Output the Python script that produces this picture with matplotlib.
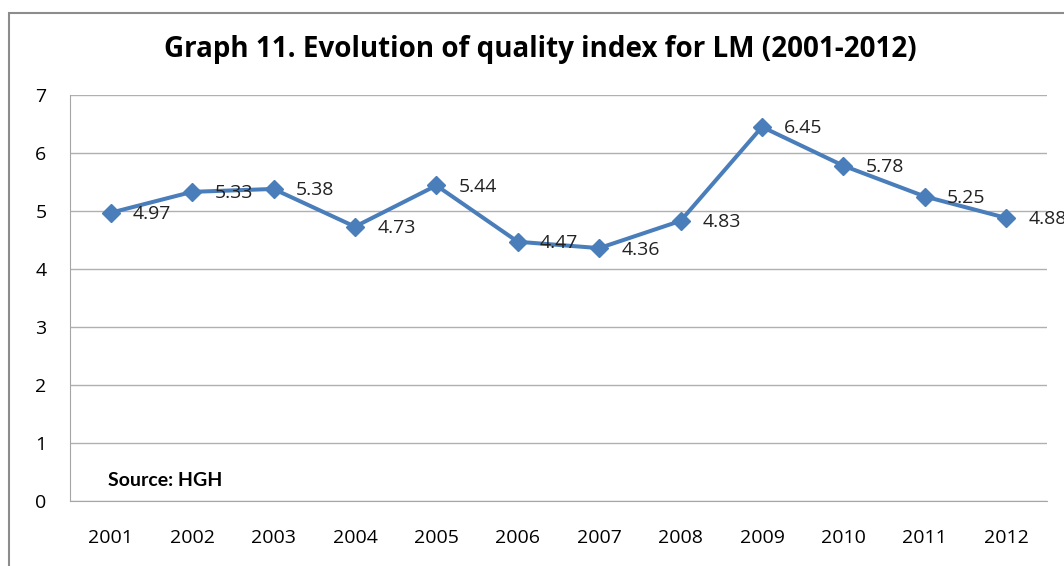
import numpy as np
import matplotlib.pyplot as plt
from matplotlib.patches import Rectangle

# --- données ---
years = ['2001', '2002', '2003', '2004', '2005', '2006',
         '2007', '2008', '2009', '2010', '2011', '2012']
quality = [4.97, 5.33, 5.38, 4.73, 5.44, 4.47, 4.36, 4.83, 6.45, 5.78, 5.25, 4.88]
yticks = [0, 1, 2, 3, 4, 5, 6, 7]

plt.rcParams['font.family'] = ['Open Sans', 'DejaVu Sans']

fig = plt.figure(figsize=(10.64, 5.66), dpi=100)
ax = fig.add_axes([70/1064, 1 - 501/566, 977/1064, 406/566])

# cadre extérieur du graphique
fig.patches.append(Rectangle((9/1064, -0.1), 1.2, 1 - 13/566 + 0.1,
                             transform=fig.transFigure, fill=False,
                             edgecolor='#8c8c8c', linewidth=1.5))

x = np.arange(len(years))
ax.plot(x, quality, color='#4A7EBB', linewidth=2.9, marker='D',
        markersize=9, zorder=3)

# étiquettes de valeurs (la dernière déborde à droite, comme sur l'original)
for xi, v in zip(x, quality):
    ax.annotate(f'{v:.2f}', (xi, v), xytext=(16, -1), textcoords='offset points',
                va='center', ha='left', fontsize=14, color='#222222',
                annotation_clip=False)

ax.set_xlim(-0.5, len(years) - 0.5)
ax.set_ylim(0, 7)
ax.set_xticks(x)
ax.set_xticklabels(years, fontsize=14)
ax.set_yticks(yticks)
ax.set_yticklabels([str(t) for t in yticks], fontsize=14)
ax.tick_params(length=0, pad=17)
ax.tick_params(axis='x', pad=20)

ax.grid(axis='y', color='#b0b0b0', linewidth=1)
ax.set_axisbelow(True)
for s in ['top', 'right']:
    ax.spines[s].set_visible(False)
for s in ['left', 'bottom']:
    ax.spines[s].set_color('#a6a6a6')

fig.text(540/1064, 1 - 50/566, 'Graph 11. Evolution of quality index for LM (2001-2012)',
         ha='center', va='center', fontsize=20, fontweight='bold')
ax.text(108/1064, 1 - 481/566, 'Source: HGH', transform=fig.transFigure,
        ha='left', va='center', fontsize=14, fontweight='bold',
        family=['Lato', 'DejaVu Sans'])

fig.savefig('out.png', dpi=100)
